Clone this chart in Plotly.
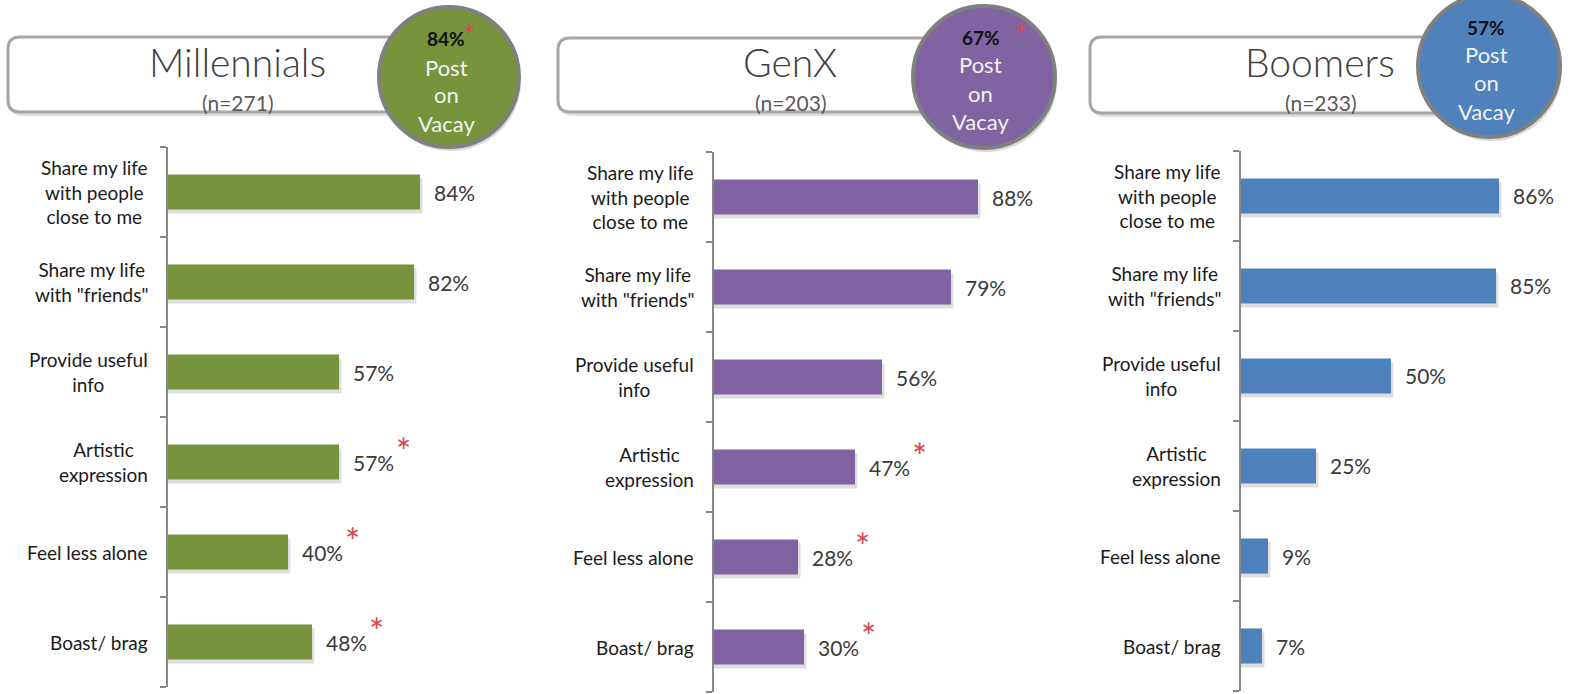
import plotly.graph_objects as go

# ---------------- data ----------------
categories = ["Share my life<br>with people<br>close to me",
              "Share my life<br>with \"friends\"",
              "Provide useful<br>info",
              "Artistic<br>expression",
              "Feel less alone",
              "Boast/ brag"]
groups = ["Millennials", "GenX", "Boomers"]
sample_n = [271, 203, 233]
post_on_vacay = [84, 67, 57]
post_sig = [True, True, False]
millennials = [84, 82, 57, 57, 40, 48]
genx = [88, 79, 56, 47, 28, 30]
boomers = [86, 85, 50, 25, 9, 7]
millennials_sig = [False, False, False, True, True, True]
genx_sig = [False, False, False, True, True, True]
boomers_sig = [False, False, False, False, False, False]

series = [millennials, genx, boomers]
sigs = [millennials_sig, genx_sig, boomers_sig]
colors = ["#77933C", "#8064A2", "#4F81BD"]

W, H = 1572, 694
FONT = "Lato"


def px(x):
    return x / W


def py(y):
    return 1 - y / H


# panel geometry in pixels
axis_x = [168, 714, 1241]
plot_top = [147, 152, 151]
rect_left = [8, 558, 1090]
rect_top = [37, 38, 37]
rect_bot = [112, 112, 113]
circ = [(449, 77, 70), (984, 77, 71), (1489, 66, 71)]
title_x = [237, 790, 1320]
circ_text_y = [(39, 67, 95, 123), (37, 65, 94, 122), (27, 55, 83, 112)]
circ_star = [(470, 30), (1020, 29), None]

fig = go.Figure()
shapes = []
annotations = []


def rr(l, t, r, b, rad):
    return (f"M {px(l+rad)} {py(t)} L {px(r-rad)} {py(t)} "
            f"Q {px(r)} {py(t)} {px(r)} {py(t+rad)} L {px(r)} {py(b-rad)} "
            f"Q {px(r)} {py(b)} {px(r-rad)} {py(b)} L {px(l+rad)} {py(b)} "
            f"Q {px(l)} {py(b)} {px(l)} {py(b-rad)} L {px(l)} {py(t+rad)} "
            f"Q {px(l)} {py(t)} {px(l+rad)} {py(t)} Z")


for i in range(3):
    xa = "x" if i == 0 else f"x{i+1}"
    ya = "y" if i == 0 else f"y{i+1}"
    vals = series[i]
    pos = list(range(len(categories)))
    # soft shadow
    fig.add_trace(go.Bar(
        x=[v + 0.8 for v in vals], y=pos, orientation="h", width=0.39,
        offset=-0.195 + 0.045, marker=dict(color="rgba(0,0,0,0.13)", line=dict(width=0)),
        xaxis=xa, yaxis=ya, hoverinfo="skip", showlegend=False))
    fig.add_trace(go.Bar(
        x=vals, y=pos, orientation="h", width=0.39, offset=-0.195,
        marker=dict(color=colors[i], line=dict(width=0)),
        xaxis=xa, yaxis=ya, showlegend=False))

    for j, (cat, v) in enumerate(zip(categories, vals)):
        annotations.append(dict(x=0, y=j, xref=xa, yref=ya, text=cat,
                                xanchor="right", yanchor="middle", align="center",
                                xshift=-18, showarrow=False,
                                font=dict(family=FONT, size=19, color="#1a1a1a")))
        annotations.append(dict(x=v, y=j, xref=xa, yref=ya, text=f"{v}%",
                                xanchor="left", yanchor="middle", xshift=12,
                                showarrow=False,
                                font=dict(family=FONT, size=21, color="#3a3a3a")))
        if sigs[i][j]:
            annotations.append(dict(x=v, y=j, xref=xa, yref=ya, text="*",
                                    xanchor="center", yanchor="middle", xshift=64,
                                    yshift=11, showarrow=False,
                                    font=dict(family=FONT, size=36, color="#D9484F")))

    # header rounded rectangle (shadow + box)
    l, t, b = rect_left[i], rect_top[i], rect_bot[i]
    r = circ[i][0]
    shapes.append(dict(type="path", xref="paper", yref="paper",
                       path=rr(l + 2, t + 4, r + 2, b + 4, 12),
                       fillcolor="rgba(0,0,0,0.12)", line=dict(width=0), layer="above"))
    shapes.append(dict(type="path", xref="paper", yref="paper",
                       path=rr(l, t, r, b, 12),
                       fillcolor="white", line=dict(color="#A6A6A6", width=3), layer="above"))
    cx, cy, cr = circ[i]
    shapes.append(dict(type="circle", xref="paper", yref="paper",
                       x0=px(cx - cr + 2), x1=px(cx + cr + 2),
                       y0=py(cy + cr + 4), y1=py(cy - cr + 4),
                       fillcolor="rgba(0,0,0,0.15)", line=dict(width=0), layer="above"))
    shapes.append(dict(type="circle", xref="paper", yref="paper",
                       x0=px(cx - cr), x1=px(cx + cr), y0=py(cy + cr), y1=py(cy - cr),
                       fillcolor=colors[i], line=dict(color="#808080", width=4),
                       layer="above"))

    annotations.append(dict(x=px(title_x[i]), y=py(62), xref="paper", yref="paper",
                            text=groups[i], showarrow=False, xanchor="center",
                            yanchor="middle",
                            font=dict(family=FONT, size=39, color="#404040", weight=300)))
    annotations.append(dict(x=px(title_x[i]), y=py(102), xref="paper", yref="paper",
                            text=f"(n={sample_n[i]})", showarrow=False, xanchor="center",
                            yanchor="middle",
                            font=dict(family=FONT, size=21, color="#595959")))
    ty = circ_text_y[i]
    ctx = cx - 3
    annotations.append(dict(x=px(ctx), y=py(ty[0]), xref="paper", yref="paper",
                            text=f"<b>{post_on_vacay[i]}%</b>", showarrow=False,
                            xanchor="center", yanchor="middle",
                            font=dict(family=FONT, size=19, color="#111111")))
    for word, yy in zip(["Post", "on", "Vacay"], ty[1:]):
        annotations.append(dict(x=px(ctx), y=py(yy), xref="paper", yref="paper",
                                text=word, showarrow=False, xanchor="center",
                                yanchor="middle",
                                font=dict(family=FONT, size=22, color="#F2F2F2")))
    if post_sig[i] and circ_star[i]:
        sx, sy = circ_star[i]
        annotations.append(dict(x=px(sx), y=py(sy + 5), xref="paper", yref="paper",
                                text="*", showarrow=False, xanchor="center",
                                yanchor="middle",
                                font=dict(family=FONT, size=30, color="#D9484F")))

layout_axes = {}
for i in range(3):
    xk = "xaxis" if i == 0 else f"xaxis{i+1}"
    yk = "yaxis" if i == 0 else f"yaxis{i+1}"
    x0 = axis_x[i]
    layout_axes[xk] = dict(domain=[px(x0), px(x0 + 300)], range=[0, 100],
                           visible=False, anchor="y" if i == 0 else f"y{i+1}")
    layout_axes[yk] = dict(domain=[py(plot_top[i] + 540), py(plot_top[i])],
                           range=[5.5, -0.5], anchor="x" if i == 0 else f"x{i+1}",
                           showgrid=False, zeroline=False, showline=True,
                           linecolor="#868686", linewidth=1.5,
                           ticks="outside", ticklen=6, tickcolor="#868686",
                           tickwidth=1.5,
                           tickvals=[k - 0.5 for k in range(7)],
                           ticktext=[""] * 7, showticklabels=False)

fig.update_layout(
    width=W, height=H, margin=dict(l=0, r=0, t=0, b=0),
    paper_bgcolor="white", plot_bgcolor="white",
    barmode="overlay", showlegend=False,
    shapes=shapes, annotations=annotations,
    **layout_axes)

fig.write_html("out.html", config={"displayModeBar": False},
               post_script="document.body.style.margin='0';document.body.style.padding='0';")
